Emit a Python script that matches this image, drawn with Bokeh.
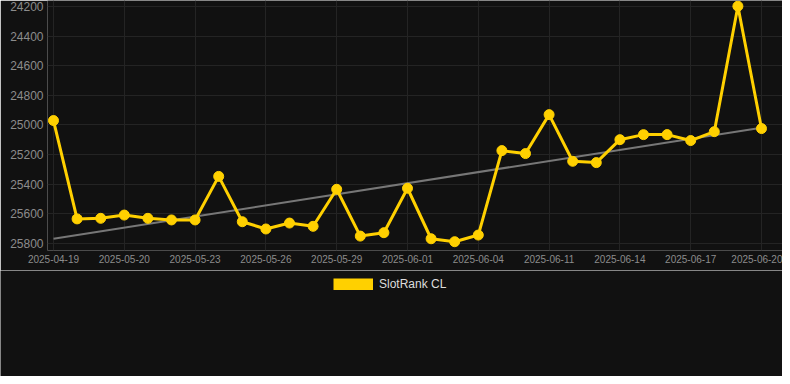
from bokeh.plotting import figure
from bokeh.layouts import column
from bokeh.models import Range1d, FixedTicker, Legend, LegendItem
from bokeh.embed import file_html
from bokeh.resources import INLINE

dates = ["2025-04-19", "2025-05-18", "2025-05-19", "2025-05-20", "2025-05-21", "2025-05-22",
         "2025-05-23", "2025-05-24", "2025-05-25", "2025-05-26", "2025-05-27", "2025-05-28",
         "2025-05-29", "2025-05-30", "2025-05-31", "2025-06-01", "2025-06-02", "2025-06-03",
         "2025-06-04", "2025-06-09", "2025-06-10", "2025-06-11", "2025-06-12", "2025-06-13",
         "2025-06-14", "2025-06-15", "2025-06-16", "2025-06-17", "2025-06-18", "2025-06-19",
         "2025-06-20"]
ranks = [24970, 25634, 25630, 25608, 25630, 25641, 25641, 25347, 25653, 25702, 25662, 25684,
         25434, 25750, 25727, 25427, 25768, 25788, 25743, 25173, 25193, 24930, 25245, 25254,
         25099, 25065, 25065, 25105, 25045, 24198, 25024]
tick_step = 3
y_ticks = [24200, 24400, 24600, 24800, 25000, 25200, 25400, 25600, 25800]
trend_start = 25768
trend_end = 25018
series_name = "SlotRank CL"

idx = list(range(len(dates)))
tick_idx = idx[::tick_step]

BG = "#111111"
YEL = "#FFD000"
FONT = "Liberation Sans"

p = figure(frame_width=735, frame_height=250, output_backend="svg", toolbar_location=None,
           x_range=Range1d(-0.254, 30.89), y_range=Range1d(25847.3, 24159.5),
           min_border_left=47, min_border_right=0, min_border_top=0, min_border_bottom=20,
           background_fill_color=BG, border_fill_color=BG, outline_line_color=None,
           frame_align=False)

p.xaxis.ticker = FixedTicker(ticks=tick_idx)
p.xaxis.major_label_overrides = {i: dates[i] for i in tick_idx}
p.yaxis.ticker = FixedTicker(ticks=y_ticks)
for ax in (p.xaxis, p.yaxis):
    ax.axis_line_color = None
    ax.major_tick_line_color = None
    ax.minor_tick_line_color = None
    ax.major_tick_out = 0
    ax.major_tick_in = 0
    ax.major_label_text_font = FONT
    ax.major_label_text_color = "#8c8c8c"
p.xaxis.major_label_text_font_size = "10px"
p.yaxis.major_label_text_font_size = "12px"
p.xaxis.major_label_standoff = 4
p.yaxis.major_label_standoff = 4
p.yaxis.formatter.use_scientific = False

p.xgrid.ticker = FixedTicker(ticks=tick_idx)
p.ygrid.ticker = FixedTicker(ticks=y_ticks)
p.xgrid.grid_line_color = "#242424"
p.ygrid.grid_line_color = "#242424"

p.line([idx[0], idx[-1]], [trend_start, trend_end], line_color="#777777", line_width=2)
p.line(idx, ranks, line_color=YEL, line_width=3, line_join="round")
p.scatter(idx, ranks, size=10, fill_color=YEL, line_color=YEL)

# legend strip below the chart (series drawn out of view; only its legend swatch shows)
p2 = figure(frame_width=782, frame_height=106, output_backend="svg", toolbar_location=None,
            x_range=Range1d(0, 1), y_range=Range1d(0, 1),
            x_axis_type=None, y_axis_type=None, min_border=0,
            background_fill_color=BG, border_fill_color=BG, outline_line_color=None,
            frame_align=False)
swatch = p2.line(idx, ranks, line_color=YEL, line_width=12, line_cap="butt")
legend = Legend(items=[LegendItem(label=series_name, renderers=[swatch])],
                location=(333, 85), orientation="horizontal",
                glyph_width=40, glyph_height=12, label_standoff=6,
                padding=6, margin=0, spacing=0,
                label_text_font=FONT, label_text_font_size="12px", label_text_color="#dddddd",
                background_fill_alpha=0, border_line_color=None)
p2.add_layout(legend, "center")

layout = column(p, p2, spacing=0)
open("out.html", "w").write(file_html(layout, INLINE))
